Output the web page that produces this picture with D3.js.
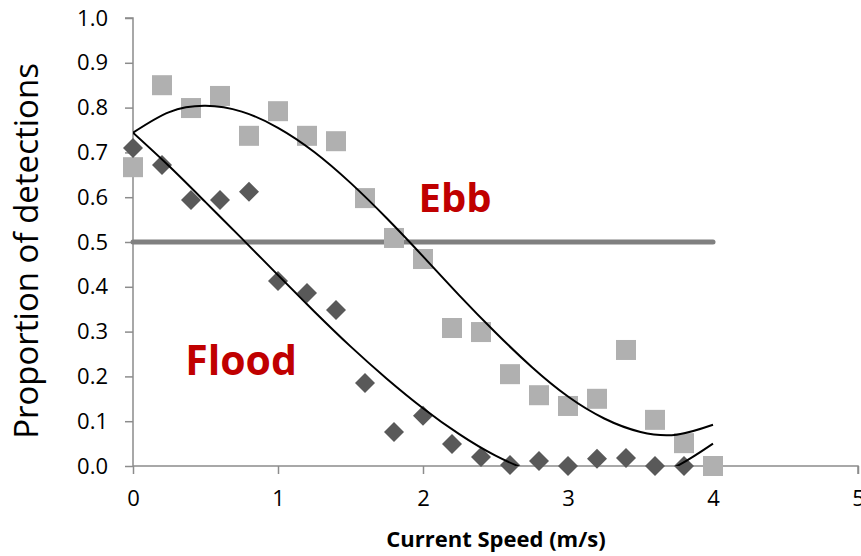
<!DOCTYPE html>
<html>
<head>
<meta charset="utf-8">
<script src="https://cdn.jsdelivr.net/npm/d3@7"></script>
<style>
  html, body { margin: 0; padding: 0; background: #fff; }
  svg { display: block; }
  text { font-family: "Open Sans", Lato, sans-serif; }
</style>
</head>
<body>
<svg id="chart" width="861" height="556"></svg>
<script>
// ---- data ----
const speeds = [0, 0.2, 0.4, 0.6, 0.8, 1.0, 1.2, 1.4, 1.6, 1.8, 2.0, 2.2, 2.4, 2.6, 2.8, 3.0, 3.2, 3.4, 3.6, 3.8, 4.0];
const ebbValues = [0.667, 0.850, 0.799, 0.826, 0.737, 0.792, 0.737, 0.725, 0.598, 0.509, 0.462, 0.308, 0.299, 0.205, 0.158, 0.134, 0.150, 0.259, 0.103, 0.051, 0.0];
const floodSpeeds = [0, 0.2, 0.4, 0.6, 0.8, 1.0, 1.2, 1.4, 1.6, 1.8, 2.0, 2.2, 2.4, 2.6, 2.8, 3.0, 3.2, 3.4, 3.6, 3.8];
const floodValues = [0.710, 0.672, 0.594, 0.594, 0.612, 0.413, 0.386, 0.348, 0.185, 0.076, 0.112, 0.049, 0.020, 0.002, 0.011, 0.0, 0.016, 0.018, 0.0, 0.0];

// trendlines
const trendX = [0, 0.25, 0.5, 0.75, 1.0, 1.25, 1.5, 1.75, 2.0, 2.25, 2.5, 2.75, 3.0, 3.25, 3.5, 3.75, 4.0];
const ebbTrend = [0.744, 0.790, 0.804, 0.791, 0.755, 0.701, 0.632, 0.553, 0.468, 0.381, 0.298, 0.221, 0.155, 0.106, 0.076, 0.070, 0.092];
const floodTrend = [0.744, 0.669, 0.589, 0.508, 0.426, 0.345, 0.267, 0.195, 0.129, 0.071, 0.023, -0.012, -0.035, -0.041, -0.030, -0.0004, 0.050];

const thresholdX = [0, 4];
const thresholdY = 0.5;

const xTicks = [0, 1, 2, 3, 4, 5];
const yTicks = [0, 0.1, 0.2, 0.3, 0.4, 0.5, 0.6, 0.7, 0.8, 0.9, 1.0];

const labels = { x: "Current Speed (m/s)", y: "Proportion of detections", ebb: "Ebb", flood: "Flood" };

// ---- layout ----
const svg = d3.select("#chart");
const margin = { left: 133, right: 3, top: 18, bottom: 90 };
const W = 861, H = 556;
const x = d3.scaleLinear().domain([0, 5]).range([margin.left, W - margin.right]);
const y = d3.scaleLinear().domain([0, 1]).range([H - margin.bottom, margin.top]);

const axisColor = "#8c8c8c";

svg.append("defs").append("clipPath").attr("id", "plotclip")
  .append("rect")
  .attr("x", x(0)).attr("y", y(1) - 30)
  .attr("width", x(5) - x(0)).attr("height", y(0) - y(1) + 30);

// y axis
const yAxis = d3.axisLeft(y).tickValues(yTicks).tickFormat(d3.format(".1f")).tickSize(8).tickPadding(17);
const gy = svg.append("g").attr("transform", `translate(${x(0)},0)`).call(yAxis);
gy.select(".domain").attr("stroke", axisColor).attr("stroke-width", 1.5).attr("d", `M-8,${y(1)}H0V${y(0)}`);
gy.selectAll(".tick line").attr("stroke", axisColor).attr("stroke-width", 1.5);
gy.selectAll(".tick text").attr("fill", "#000").style("font-size", "22px");

// x axis
const xAxis = d3.axisBottom(x).tickValues(xTicks).tickFormat(d3.format("d")).tickSize(8).tickPadding(16);
const gx = svg.append("g").attr("transform", `translate(0,${y(0)})`).call(xAxis);
gx.select(".domain").attr("stroke", axisColor).attr("stroke-width", 1.5).attr("d", `M${x(0)},0H${x(5)}V8`);
gx.selectAll(".tick line").attr("stroke", axisColor).attr("stroke-width", 1.5);
gx.selectAll(".tick text").attr("fill", "#000").style("font-size", "22px");

// 0.5 threshold line
svg.append("line")
  .attr("x1", x(thresholdX[0])).attr("x2", x(thresholdX[1]))
  .attr("y1", y(thresholdY)).attr("y2", y(thresholdY))
  .attr("stroke", "#808080").attr("stroke-width", 5).attr("stroke-linecap", "round");

// markers - Ebb squares
const sq = 20;
svg.append("g").selectAll("rect").data(speeds.map((s, i) => [s, ebbValues[i]])).join("rect")
  .attr("x", d => x(d[0]) - sq / 2).attr("y", d => y(d[1]) - sq / 2)
  .attr("width", sq).attr("height", sq)
  .attr("fill", "#b0b0b0");

// markers - Flood diamonds
const dsz = 10;
svg.append("g").selectAll("path").data(floodSpeeds.map((s, i) => [s, floodValues[i]])).join("path")
  .attr("d", d => `M${x(d[0])},${y(d[1]) - dsz}L${x(d[0]) + dsz},${y(d[1])}L${x(d[0])},${y(d[1]) + dsz}L${x(d[0]) - dsz},${y(d[1])}Z`)
  .attr("fill", "#595959");

// trendlines
const line = d3.line().x(d => x(d[0])).y(d => y(d[1])).curve(d3.curveNatural);
const tg = svg.append("g").attr("clip-path", "url(#plotclip)");
tg.append("path").attr("d", line(trendX.map((t, i) => [t, ebbTrend[i]])))
  .attr("fill", "none").attr("stroke", "#000").attr("stroke-width", 2);
tg.append("path").attr("d", line(trendX.map((t, i) => [t, floodTrend[i]])))
  .attr("fill", "none").attr("stroke", "#000").attr("stroke-width", 2);

// annotation labels
svg.append("text").attr("x", 455).attr("y", 212).attr("text-anchor", "middle")
  .attr("fill", "#c00000").style("font-weight", "bold").style("font-size", "40px").text(labels.ebb);
svg.append("text").attr("x", 241).attr("y", 375).attr("text-anchor", "middle")
  .attr("fill", "#c00000").style("font-weight", "bold").style("font-size", "41px").text(labels.flood);

// axis titles
svg.append("text").attr("x", 496).attr("y", 547).attr("text-anchor", "middle")
  .attr("fill", "#000").style("font-weight", "bold").style("font-size", "22px").text(labels.x);
svg.append("text").attr("transform", `translate(38,251) rotate(-90)`).attr("text-anchor", "middle")
  .attr("fill", "#000").style("font-size", "33px").text(labels.y);
</script>
</body>
</html>
